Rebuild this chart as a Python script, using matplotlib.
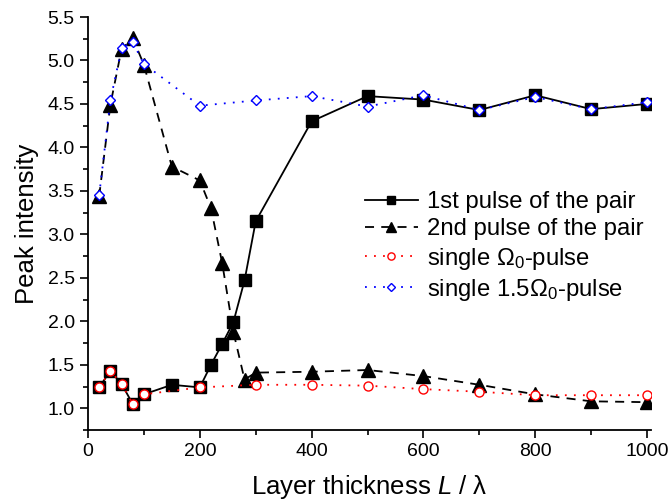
import matplotlib
matplotlib.use("Agg")
import matplotlib.pyplot as plt
from matplotlib.ticker import MultipleLocator

plt.rcParams['font.family'] = ['Liberation Sans', 'DejaVu Sans']
plt.rcParams['mathtext.fontset'] = 'custom'
plt.rcParams['mathtext.rm'] = 'Liberation Sans'
plt.rcParams['mathtext.it'] = 'Liberation Sans:italic'

# 1st / 2nd pulse of the pair
x_pair = [20, 40, 60, 80, 100, 150, 200, 220, 240, 260, 280, 300,
          400, 500, 600, 700, 800, 900, 1000]
first_pulse = [1.24, 1.43, 1.28, 1.05, 1.16, 1.27, 1.24, 1.50, 1.74, 1.99, 2.47, 3.15,
               4.30, 4.59, 4.55, 4.43, 4.60, 4.44, 4.50]
second_pulse = [3.44, 4.49, 5.13, 5.26, 4.95, 3.78, 3.62, 3.30, 2.67, 1.88, 1.33, 1.41,
                1.42, 1.44, 1.37, 1.27, 1.16, 1.08, 1.07]

# single pulses
x_single = [20, 40, 60, 80, 100, 200, 300, 400, 500, 600, 700, 800, 900, 1000]
single_omega0 = [1.24, 1.43, 1.28, 1.05, 1.16, 1.24, 1.27, 1.27, 1.26, 1.22, 1.19, 1.15, 1.15, 1.15]
single_15omega0 = [3.45, 4.54, 5.14, 5.21, 4.96, 4.48, 4.54, 4.59, 4.47, 4.60, 4.43, 4.58, 4.44, 4.52]

fig = plt.figure(figsize=(6.68, 5.04), dpi=100)
ax = fig.add_axes([88/668, 74/504, 563/668, 413/504])

ax.plot(x_pair, first_pulse, '-', color='black', lw=1.3, marker='s', markersize=8,
        label='1st pulse of the pair', zorder=2)
ax.plot(x_pair, second_pulse, color='black', lw=1.3, linestyle=(0, (5, 4)), marker='^',
        markersize=9.5, label='2nd pulse of the pair', zorder=3)
ax.plot(x_single, single_omega0, color='red', lw=1.3, linestyle=(0, (1, 4)), marker='o',
        markersize=6.5, markerfacecolor='white', markeredgecolor='red', markeredgewidth=1.0,
        label=r'single $\Omega_0$-pulse', zorder=4)
ax.plot(x_single, single_15omega0, color='blue', lw=1.3, linestyle=(0, (1, 4)), marker='D',
        markersize=5.5, markerfacecolor='white', markeredgecolor='blue', markeredgewidth=1.0,
        label=r'single 1.5$\Omega_0$-pulse', zorder=5)

ax.set_xlim(0, 1007)
ax.set_ylim(0.75, 5.5)
ax.xaxis.set_major_locator(MultipleLocator(200))
ax.xaxis.set_minor_locator(MultipleLocator(100))
ax.yaxis.set_major_locator(MultipleLocator(0.5))
ax.yaxis.set_minor_locator(MultipleLocator(0.25))
ax.yaxis.set_major_formatter(matplotlib.ticker.FormatStrFormatter('%.1f'))

for s in ['top', 'right']:
    ax.spines[s].set_visible(False)
for s in ['left', 'bottom']:
    ax.spines[s].set_linewidth(1.3)
ax.tick_params(which='major', direction='out', length=6, width=1.2, labelsize=14)
ax.tick_params(which='minor', direction='out', length=3.5, width=1.2)

ax.set_xlabel(r'Layer thickness $\mathit{L}$ / λ', fontsize=18.5, labelpad=9)
ax.set_ylabel('Peak intensity', fontsize=18.5, labelpad=6)

ax.legend(loc='upper left', bbox_to_anchor=(365/668, 1 - 191/504),
          bbox_transform=fig.transFigure, frameon=False, fontsize=17.2,
          handlelength=2.2, handletextpad=0.4, labelspacing=0.22, borderpad=0,
          borderaxespad=0, markerscale=0.8)

fig.savefig('out.png', dpi=100)
